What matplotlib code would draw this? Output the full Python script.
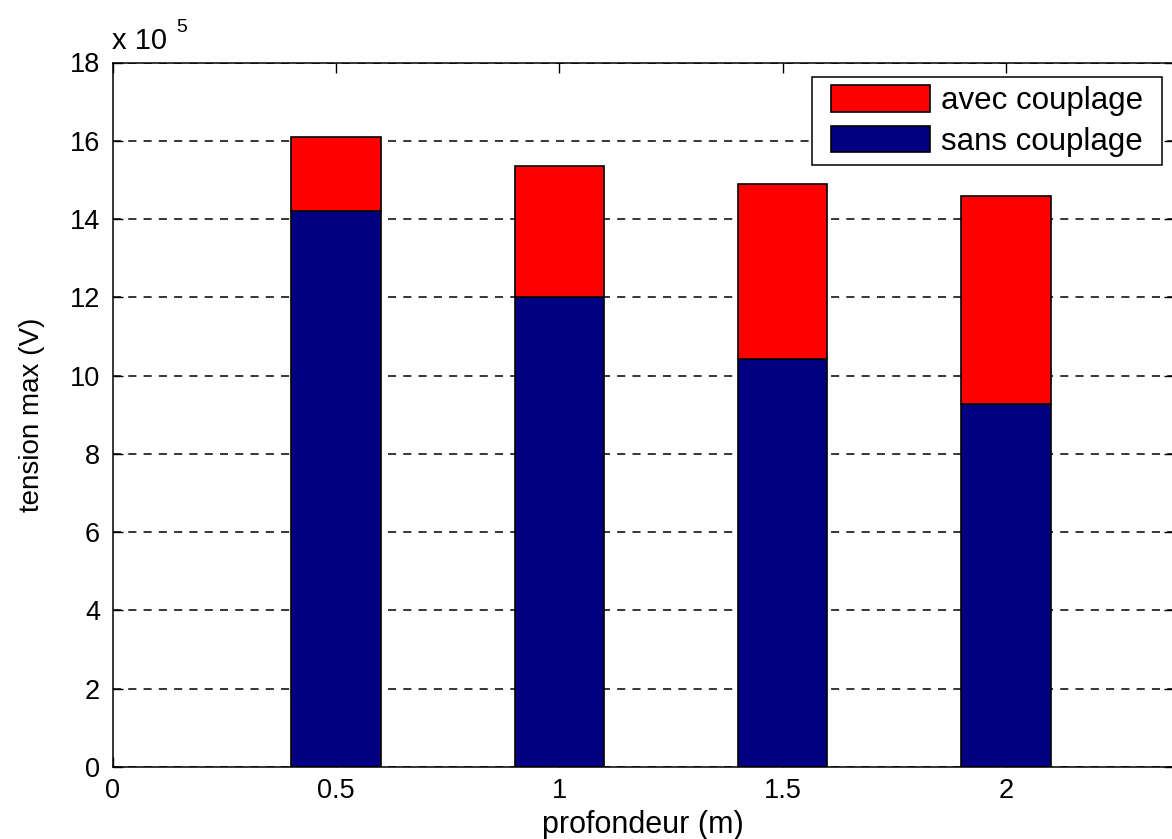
import matplotlib
matplotlib.use("Agg")
import matplotlib.pyplot as plt
from matplotlib.patches import Rectangle, Patch

plt.rcParams['font.family'] = ['Liberation Sans', 'DejaVu Sans']

# depth of the burial (m)
profondeur = [0.5, 1.0, 1.5, 2.0]
# maximum voltage, in units of 1e5 V
sans_couplage = [14.21, 12.0, 10.42, 9.28]
avec_couplage = [16.10, 15.36, 14.89, 14.58]
scale_exp = 5

xticks = [0, 0.5, 1, 1.5, 2]
xticklabels = ["0", "0.5", "1", "1.5", "2"]
yticks = list(range(0, 19, 2))

navy = "#000080"
red = "#ff0000"

fig = plt.figure(figsize=(11.72, 8.39), dpi=100)
W, H = 1172, 839
ax_l, ax_r, ax_t, ax_b = 112.5, 1174.0, 62.5, 767.0
ax = fig.add_axes([ax_l / W, (H - ax_b) / H, (ax_r - ax_l) / W, (ax_b - ax_t) / H])

extra = [a - s for a, s in zip(avec_couplage, sans_couplage)]
ax.bar(profondeur, sans_couplage, width=0.2, color=navy, edgecolor="black",
       linewidth=1.2, zorder=2)
ax.bar(profondeur, extra, bottom=sans_couplage, width=0.2, color=red,
       edgecolor="black", linewidth=1.2, zorder=2)

ax.set_xlim(0, (ax_r - ax_l) / 446.7)
ax.set_ylim(0, 18)
ax.set_xticks(xticks)
ax.set_xticklabels(xticklabels)
ax.set_yticks(yticks)
ax.set_yticklabels([str(v) for v in yticks])

ax.tick_params(axis="both", direction="in", length=7, width=1.0,
               labelsize=19.5, top=True, right=True)
ax.tick_params(axis="y", pad=9)
ax.tick_params(axis="x", pad=8)

for sp in ax.spines.values():
    sp.set_linewidth(1.1)

ax.set_axisbelow(True)
ax.yaxis.grid(True, color="black", linestyle=(0, (5.3, 4.7)), linewidth=1.1)

ax.set_xlabel("profondeur (m)", fontsize=22)
ax.xaxis.set_label_coords(0.5, -0.061)
ax.set_ylabel("tension max (V)", fontsize=20)
ax.yaxis.set_label_coords((45 - ax_l) / (ax_r - ax_l), 0.5)

# exponent of the y scale
fig.text(112 / W, 1 - 49 / H, "x 10", fontsize=21, ha="left", va="baseline")
fig.text(176 / W, 1 - 32 / H, str(scale_exp), fontsize=14, ha="left", va="baseline")

# legend, with its frame drawn separately for a wider horizontal margin
pad_x, pad_y = 19, 8.5
box_right, box_top = 1162, 76.7
fs_leg = 22.5
px = fs_leg * 100 / 72
h_avec = Patch(facecolor=red, edgecolor="black", linewidth=1.2)
h_sans = Patch(facecolor=navy, edgecolor="black", linewidth=1.2)
leg = fig.legend([h_avec, h_sans], ["avec couplage", "sans couplage"],
                 loc="upper right",
                 bbox_to_anchor=((box_right - pad_x) / W, 1 - (box_top + pad_y) / H),
                 bbox_transform=fig.transFigure,
                 fontsize=fs_leg, frameon=False,
                 borderaxespad=0, borderpad=0,
                 handlelength=99 / px, handleheight=29 / px,
                 handletextpad=11 / px, labelspacing=0.3)
leg.set_zorder(6)

fig.canvas.draw()
bb = leg.get_window_extent()
frame = Rectangle((bb.x0 - pad_x, bb.y0 - pad_y),
                  bb.width + 2 * pad_x, bb.height + 2 * pad_y,
                  transform=None, facecolor="white", edgecolor="black",
                  linewidth=1.1, zorder=5)
fig.add_artist(frame)

fig.savefig("out.png", dpi=100, facecolor="white")
